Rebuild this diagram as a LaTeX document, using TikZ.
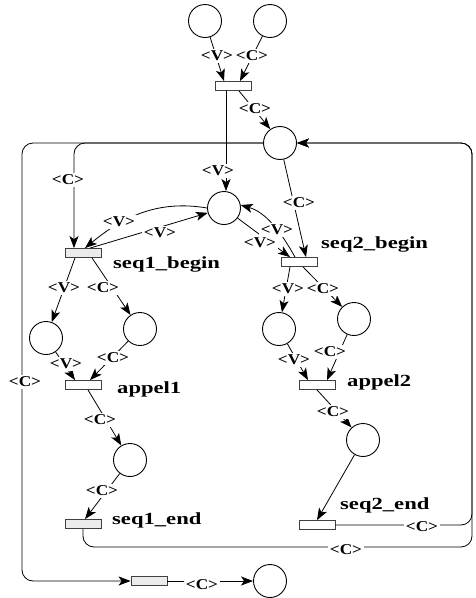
\documentclass[tikz,border=0pt]{standalone}
\usepackage{fontspec}
\setmainfont{Liberation Serif}
\newfontfamily\namefont[FakeStretch=1.33]{Liberation Serif}
\newfontfamily\inscfont[FakeStretch=1.15]{Liberation Serif}
\usetikzlibrary{arrows.meta,calc}
\begin{document}
\begin{tikzpicture}[x=1pt,y=-1pt,
  place/.style={circle,draw,line width=0.9pt,minimum size=33pt,inner sep=0pt},
  trans/.style={rectangle,draw=black!75,line width=0.8pt,minimum width=36pt,minimum height=9pt,inner sep=0pt},
  shaded/.style={fill=black!8},
  arc/.style={line width=0.8pt,-{Stealth[length=12pt,width=9pt,inset=3pt]}},
  loop/.style={arc,rounded corners=11pt},
  lab/.style={fill=white,inner sep=2pt,font=\inscfont\fontsize{15}{15}\selectfont\bfseries},
  tname/.style={anchor=base west,inner sep=0pt,font=\namefont\fontsize{17}{17}\selectfont\bfseries}]

\useasboundingbox (0,0) rectangle (475,598);

% places
\node[place] (Pt1)  at (205,21)  {};
\node[place] (Pt2)  at (270,21)  {};
\node[place] (Pres) at (280,143) {};
\node[place] (PV)   at (224,208) {};
\node[place] (Ps1v) at (46,338)  {};
\node[place] (Ps1a) at (140,329) {};
\node[place] (Ps2v) at (279,329) {};
\node[place] (Ps2a) at (354,319) {};
\node[place] (Ps1c) at (130,460) {};
\node[place] (Ps2c) at (363,440) {};
\node[place] (Pfin) at (270,581) {};

% transitions
\node[trans] (Ttop) at (233,86)  {};
\node[trans,shaded] (Ts1b) at (83,253)  {};
\node[trans] (Ts2b) at (299,262) {};
\node[trans] (Ta1)  at (83,385)  {};
\node[trans] (Ta2)  at (317,385) {};
\node[trans,shaded] (Ts1e) at (83,524)  {};
\node[trans] (Ts2e) at (317,525) {};
\node[trans,shaded] (Tfin) at (149,581) {};

% transition names
\node[tname] (n1) at (113,268) {seq1\_begin};
\node[tname] (n2) at (321,248) {seq2\_begin};
\node[tname] (n3) at (117,393) {appel1};
\node[tname] (n4) at (347,386) {appel2};
\node[tname] (n5) at (112,524) {seq1\_end};
\node[tname] (n6) at (340,509) {seq2\_end};

% loop corners
\coordinate (LT)  at (22,143);
\coordinate (RB)  at (472,525);
\coordinate (RB2) at (472,547);

% arcs
\draw[arc] (Pt1) -- ([xshift=-9pt]Ttop.north);
\draw[arc] (Pt2) -- ([xshift=7pt]Ttop.north);
\draw[arc] ([xshift=6pt]Ttop.south) -- (Pres.125);
\draw[arc] ([xshift=-7pt]Ttop.south) -- ([xshift=2pt]PV.north);

\draw[loop] (Pres.west) -- (LT) |- (Tfin.west);
\draw[loop] (Pres.west) -| ([xshift=-9pt]Ts1b.north);
\draw[arc] (Pres) -- ([xshift=7pt]Ts2b.north);
\draw[loop] (Ts2e.east) -- (RB) |- (Pres.east);
\draw[loop] (Ts1e.south) |- (RB2) |- (Pres.east);

\draw[arc] (PV.west) .. controls (160,200) and (125,215) .. ([xshift=2pt]Ts1b.north);
\draw[arc] ([xshift=7pt]Ts1b.north) -- (PV);
\draw[arc] (PV) -- ([xshift=-9pt]Ts2b.north);
\draw[arc] ([xshift=-4pt]Ts2b.north) .. controls (280,230) and (265,212) .. (PV.10);

\draw[arc] ([xshift=-8pt]Ts1b.south) -- (Ps1v);
\draw[arc] ([xshift=9pt]Ts1b.south) -- (Ps1a);
\draw[arc] (Ps1v) -- ([xshift=-8pt]Ta1.north);
\draw[arc] (Ps1a) -- ([xshift=7pt]Ta1.north);
\draw[arc] ([xshift=5pt]Ta1.south) -- (Ps1c);
\draw[arc] (Ps1c) -- ([xshift=2pt]Ts1e.north);

\draw[arc] ([xshift=-9pt]Ts2b.south) -- (Ps2v);
\draw[arc] ([xshift=4pt]Ts2b.south) -- (Ps2a);
\draw[arc] (Ps2v) -- ([xshift=-9pt]Ta2.north);
\draw[arc] (Ps2a) -- ([xshift=10pt]Ta2.north);
\draw[arc] (Ta2.south) -- (Ps2c);
\draw[arc] (Ps2c) -- (Ts2e.north);

\draw[arc] (Tfin.east) -- (Pfin.west);

% arc inscriptions
\node[lab] (l1)  at (217,56)  {<V>};
\node[lab] (l2)  at (252,56)  {<C>};
\node[lab] (l3)  at (255,109) {<C>};
\node[lab] (l4)  at (218,171) {<V>};
\node[lab] (l5)  at (68,180)  {<C>};
\node[lab] (l6)  at (299,203) {<C>};
\node[lab] (l7)  at (119,222) {<V>};
\node[lab] (l8)  at (160,233) {<V>};
\node[lab] (l9)  at (277,230) {<V>};
\node[lab] (l10) at (260,243) {<V>};
\node[lab] (l11) at (64,288)  {<V>};
\node[lab] (l12) at (103,288) {<C>};
\node[lab] (l13) at (288,289) {<V>};
\node[lab] (l14) at (323,289) {<C>};
\node[lab] (l15) at (66,364)  {<V>};
\node[lab] (l16) at (113,358) {<C>};
\node[lab] (l17) at (294,360) {<V>};
\node[lab] (l18) at (330,352) {<C>};
\node[lab] (l19) at (25,382)  {<C>};
\node[lab] (l20) at (100,420) {<C>};
\node[lab] (l21) at (333,412) {<C>};
\node[lab] (l22) at (102,491) {<C>};
\node[lab] (l23) at (422,527) {<C>};
\node[lab] (l24) at (346,550) {<C>};
\node[lab] (l25) at (202,585) {<C>};
\end{tikzpicture}
\end{document}
